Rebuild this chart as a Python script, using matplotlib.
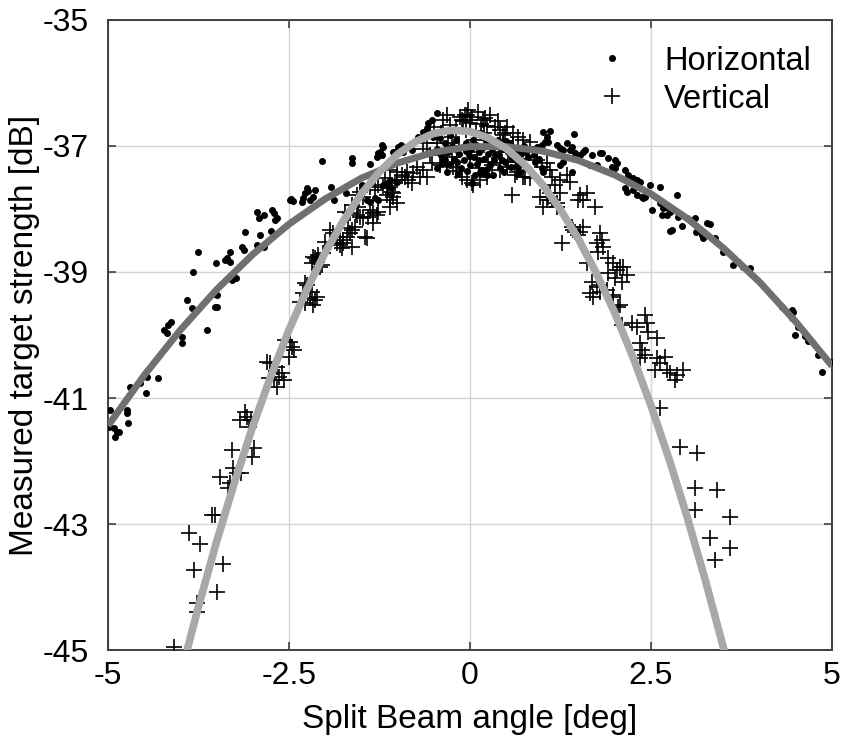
import numpy as np
import matplotlib
matplotlib.use("Agg")
import matplotlib.pyplot as plt

# ==========================================
# DATA
# ==========================================
# Horizontal split-beam angle measurements (angle [deg], TS [dB])
horiz_pts = [
    # left arm
    (-3.29, -39.13), (-3.91, -39.44), (-3.84, -39.57), (-3.50, -39.37), (-3.52, -39.56),
    (-3.49, -39.56), (-3.63, -39.92), (-4.13, -39.79), (-4.17, -39.84), (-4.23, -39.92),
    (-4.19, -39.97), (-3.98, -40.03), (-3.98, -40.13), (-4.46, -40.67), (-4.31, -40.68),
    (-4.56, -40.76), (-4.48, -40.92), (-4.70, -40.83), (-4.97, -41.19), (-4.74, -41.19),
    (-4.74, -41.24), (-4.72, -41.40), (-4.99, -41.46), (-4.92, -41.48), (-4.88, -41.54),
    (-4.90, -41.62), (-4.85, -41.54),
    (-2.49, -37.86), (-2.94, -38.05), (-2.85, -38.10), (-2.91, -38.14), (-2.73, -38.02),
    (-2.71, -38.06), (-2.67, -38.14), (-2.69, -38.17), (-3.11, -38.37), (-2.90, -38.41),
    (-2.75, -38.35), (-2.94, -38.57), (-2.85, -38.60), (-3.15, -38.60), (-3.12, -38.65),
    (-3.31, -38.68), (-3.36, -38.78), (-3.31, -38.84), (-3.38, -38.81), (-3.75, -38.68),
    (-3.51, -38.86), (-3.83, -39.00), (-3.29, -39.10), (-3.23, -39.10), (-3.52, -39.35),
    (-2.04, -37.24), (-1.63, -37.19), (-1.63, -37.27), (-1.38, -37.29), (-1.28, -37.17),
    (-1.22, -37.14), (-1.20, -37.02), (-1.24, -37.10), (-1.04, -37.10), (-0.99, -37.02),
    (-2.25, -37.67), (-2.28, -37.75), (-2.31, -37.83), (-2.21, -37.86), (-2.24, -37.71),
    (-2.17, -37.81), (-2.14, -37.70), (-2.32, -37.89), (-2.47, -37.84), (-2.45, -37.87),
    (-1.92, -37.65), (-1.88, -37.86), (-1.71, -37.75), (-1.49, -37.62), (-1.49, -37.73),
    (-1.42, -37.86), (-1.38, -37.89), (-1.31, -37.83), (-1.27, -37.86), (-1.15, -37.59),
    (-1.10, -37.54), (-1.01, -37.57),
    (-1.22, -36.98), (-1.27, -37.11), (-1.06, -37.10), (-0.95, -36.98), (-0.86, -37.02),
    (-0.80, -37.06), (-0.72, -36.86), (-0.65, -36.78), (-0.59, -36.71), (-0.58, -36.63),
    (-0.52, -36.59), (-0.46, -36.48), (-0.55, -36.79), (-0.51, -36.86), (-0.37, -37.22),
    (-1.20, -37.62), (-1.10, -37.65), (-0.93, -37.10), (-0.46, -37.35), (-0.35, -37.22),
    (-0.18, -37.25), (0.03, -37.59), (0.14, -37.41), (0.23, -37.46), (1.01, -37.41),
    (0.99, -37.35),
    # centre cluster
    (-0.45, -37.05), (-0.40, -37.15), (-0.35, -36.95), (-0.30, -37.10), (-0.28, -37.30),
    (-0.25, -37.00), (-0.22, -37.20), (-0.20, -36.90), (-0.15, -37.12), (-0.12, -37.35),
    (-0.10, -37.02), (-0.08, -37.22), (-0.05, -36.95), (-0.02, -37.15), (0.00, -37.30),
    (0.02, -37.05), (0.05, -37.18), (0.08, -36.98), (0.10, -37.28), (0.12, -37.10),
    (0.15, -37.38), (0.18, -37.02), (0.20, -37.20), (0.22, -36.92), (0.25, -37.12),
    (0.28, -37.30), (0.30, -37.05), (0.33, -37.22), (0.36, -36.98), (0.40, -37.15),
    (0.42, -37.35), (0.45, -37.05), (0.48, -37.25), (0.52, -37.10), (0.55, -36.96),
    (0.58, -37.20), (0.62, -37.08), (0.65, -37.30), (0.70, -37.12), (0.75, -37.00),
    (0.80, -37.18), (0.85, -37.05), (0.90, -37.25),
    (-0.42, -36.88), (-0.38, -37.28), (-0.32, -37.42), (-0.27, -36.82), (-0.18, -37.06),
    (-0.16, -37.44), (-0.06, -37.08), (-0.04, -37.40), (0.04, -36.90), (0.07, -37.46),
    (0.13, -37.22), (0.17, -36.86), (0.24, -37.36), (0.27, -37.00), (0.32, -37.46),
    (0.35, -37.14), (0.38, -36.90), (0.44, -37.22), (0.47, -37.42), (0.50, -36.92),
    (0.56, -37.34), (0.60, -37.16), (0.67, -37.05), (0.68, -37.42), (0.72, -37.24),
    (0.78, -37.10), (0.82, -37.36), (0.88, -37.14), (0.93, -37.02), (0.95, -37.20),
    # right arm
    (1.01, -36.78), (1.10, -36.76), (1.06, -36.86), (1.04, -36.94), (1.08, -36.94),
    (0.99, -36.98), (1.44, -36.81), (1.20, -36.98), (1.24, -37.03), (1.34, -36.95),
    (1.41, -37.02), (1.28, -37.06), (1.38, -37.06), (1.45, -37.11), (1.56, -37.10),
    (1.59, -37.06), (1.69, -37.14), (1.80, -37.11), (1.82, -37.11), (1.52, -37.14),
    (1.91, -37.19), (2.00, -37.22), (2.03, -37.27), (1.66, -37.30), (1.75, -37.30),
    (1.96, -37.33), (2.14, -37.38), (2.00, -37.35), (2.18, -37.46), (2.25, -37.51),
    (2.31, -37.54), (2.35, -37.57), (2.14, -37.67), (2.17, -37.73), (2.25, -37.70),
    (2.31, -37.78), (2.38, -37.81), (2.39, -37.83), (2.49, -37.62), (2.51, -38.02),
    (1.41, -37.41), (1.28, -37.25), (1.24, -37.30), (0.18, -37.43), (0.66, -37.33),
    (2.42, -37.81), (2.62, -37.65), (2.62, -37.90), (2.67, -37.98), (2.73, -37.98),
    (2.76, -38.05), (2.65, -38.10), (2.72, -38.10), (2.86, -37.78), (2.87, -38.13),
    (2.93, -38.27), (2.76, -38.35), (2.79, -38.33), (3.00, -38.14), (3.04, -38.17),
    (3.11, -38.14), (3.12, -38.37), (3.20, -38.41), (3.22, -38.46), (3.27, -38.22),
    (3.31, -38.24), (3.38, -38.46), (3.49, -38.68), (3.63, -38.89), (3.70, -38.84),
    (3.77, -38.92), (3.87, -38.94), (4.31, -39.56), (4.45, -39.60), (4.46, -39.63),
    (4.45, -39.73), (4.53, -39.87), (4.49, -40.00), (4.63, -40.02), (4.67, -40.10),
    (4.81, -40.32), (4.86, -40.59), (4.99, -40.43),
]

# Vertical split-beam angle measurements
vert_pts = [
    # left arm
    (-4.09, -44.95), (-3.77, -44.25), (-3.77, -44.40), (-3.49, -44.08), (-3.81, -43.73),
    (-3.41, -43.63), (-3.73, -43.32), (-3.88, -43.14), (-3.56, -42.86), (-3.52, -42.86),
    (-3.34, -42.43), (-3.31, -42.35), (-3.45, -42.25), (-3.27, -42.11), (-3.16, -42.19),
    (-3.22, -42.19), (-3.29, -41.83), (-2.98, -41.79), (-3.01, -41.94), (-3.17, -41.35),
    (-3.08, -41.30), (-3.03, -41.35), (-3.05, -41.46), (-3.11, -41.22), (-2.80, -40.43),
    (-2.76, -40.44), (-2.67, -40.51), (-2.78, -40.68), (-2.71, -40.71), (-2.67, -40.83),
    (-2.57, -40.71), (-2.60, -40.60), (-2.64, -40.67), (-2.55, -40.08), (-2.49, -40.11),
    (-2.46, -40.19), (-2.43, -40.24), (-2.50, -40.35),
    (-2.35, -39.48), (-2.28, -39.49), (-2.21, -39.41), (-2.17, -39.52), (-2.14, -39.44),
    (-2.25, -39.21), (-2.31, -39.33), (-2.18, -38.86), (-2.14, -38.78), (-2.11, -38.84),
    (-2.07, -38.92), (-2.10, -38.73), (-2.03, -38.70), (-1.93, -38.33), (-1.89, -38.38),
    (-1.84, -38.54), (-1.80, -38.57), (-1.75, -38.49), (-1.77, -38.62), (-1.70, -38.44),
    (-1.69, -38.30), (-1.63, -38.33), (-1.59, -38.29), (-1.66, -38.38), (-1.73, -38.05),
    (-1.66, -38.06), (-1.56, -38.10), (-1.52, -38.13), (-1.48, -38.14), (-1.42, -38.46),
    (-1.55, -37.97), (-1.38, -38.02), (-1.34, -38.06), (-1.27, -38.05), (-1.56, -37.78),
    (-1.52, -37.73), (-1.48, -37.81), (-1.38, -37.65), (-1.31, -37.70), (-1.27, -37.62),
    (-1.20, -37.65), (-1.13, -37.67), (-1.08, -37.73), (-1.06, -37.81), (-1.10, -37.86),
    (-1.15, -37.78), (-1.17, -37.51), (-1.01, -37.54), (-1.63, -37.94),
    (-1.01, -37.90), (-1.10, -37.97), (-1.41, -38.13), (-1.34, -38.22), (-1.28, -38.10),
    (-1.75, -38.54), (-1.63, -38.60), (-1.45, -38.44), (-2.00, -38.52), (-1.80, -38.44),
    (-2.17, -38.76), (-2.11, -38.81), (-2.04, -38.89), (-2.28, -39.17), (-2.18, -39.32),
    (-2.11, -39.40),
    # centre
    (-0.07, -36.51), (0.00, -36.59), (-0.14, -36.54), (-0.03, -36.43), (-0.11, -37.49),
    (-0.04, -37.54), (0.03, -37.59), (-0.32, -37.27), (-0.23, -37.33), (-0.18, -37.25),
    (-0.25, -37.17), (-0.79, -37.43), (-0.69, -37.49), (-0.65, -37.38), (-0.73, -37.33),
    (-0.87, -37.41), (-0.94, -37.46), (-0.86, -37.54), (-0.80, -37.59),
    (0.03, -36.54), (0.11, -36.46), (0.28, -36.51), (0.00, -36.63), (0.18, -36.59),
    (-0.11, -36.59), (-0.37, -36.59), (-0.32, -36.51), (0.41, -36.75), (0.51, -36.70),
    (0.59, -36.79), (0.66, -36.86), (0.73, -36.90), (0.83, -36.94), (0.58, -37.78),
    (0.04, -37.62), (0.14, -37.54), (0.23, -37.49), (0.41, -37.38), (0.51, -37.33),
    (0.65, -37.41), (0.73, -37.49), (0.83, -37.51), (-1.10, -37.38), (-1.01, -37.41),
    (-0.90, -37.49), (-1.04, -37.59), (-1.06, -37.75), (-0.59, -37.49), (-0.52, -37.27),
    (-0.45, -36.95), (-0.35, -37.05), (-0.25, -36.85), (-0.15, -37.00), (-0.05, -36.75),
    (0.05, -36.90), (0.10, -37.10), (0.20, -36.80), (0.30, -37.00), (0.35, -36.70),
    (0.45, -36.95), (0.55, -37.10), (0.60, -37.00), (-0.55, -37.15), (-0.60, -36.95),
    (0.00, -37.20), (0.25, -37.25), (-0.20, -37.40), (0.15, -36.65), (-0.10, -36.60),
    (-0.50, -36.70), (-0.40, -36.80), (-0.28, -36.66), (-0.20, -36.72), (0.08, -36.76),
    (0.24, -36.68), (0.38, -36.60), (0.45, -36.82), (0.30, -37.30), (0.40, -37.10),
    (-0.42, -37.30), (-0.30, -36.95), (0.12, -37.35), (-0.65, -37.05), (0.70, -37.20),
    # right arm
    (0.97, -37.81), (1.06, -37.86), (1.10, -37.75), (1.20, -37.90), (1.01, -37.97),
    (0.21, -36.56), (-0.04, -36.51), (0.48, -36.79), (0.41, -37.27), (0.52, -37.25),
    (0.62, -37.46), (0.76, -37.49), (0.93, -37.22), (0.99, -37.33), (1.06, -37.27),
    (1.10, -37.38), (1.08, -37.81), (1.13, -37.49), (1.24, -37.54), (1.17, -37.62),
    (1.24, -37.75), (1.34, -37.46), (1.38, -37.57), (1.13, -37.86), (1.20, -37.97),
    (1.52, -37.78), (1.56, -37.86), (1.49, -37.86), (1.73, -37.97), (1.56, -38.29),
    (1.52, -38.37), (1.27, -38.54), (1.45, -38.37), (1.41, -38.29), (1.80, -38.38),
    (1.82, -38.49), (1.84, -38.60), (1.75, -38.54), (1.77, -38.68), (1.91, -38.78),
    (1.98, -38.86), (2.03, -38.97), (2.07, -38.92), (1.91, -39.02), (2.00, -39.10),
    (2.11, -38.92), (2.17, -39.05), (1.62, -38.86), (1.66, -39.33), (1.75, -39.24),
    (1.89, -39.29), (1.69, -39.16), (1.62, -37.75), (1.42, -38.33), (1.49, -38.41),
    (1.70, -39.40), (1.80, -39.32), (1.98, -39.40), (2.07, -39.52),
    (1.80, -39.21), (1.98, -39.37), (2.04, -39.56), (2.10, -39.16), (2.10, -39.84),
    (2.24, -39.81), (2.31, -39.87), (2.42, -39.68), (2.44, -39.81), (2.46, -39.95),
    (2.58, -40.05), (2.35, -40.13), (2.38, -40.24), (2.42, -40.32), (2.35, -40.37),
    (2.58, -40.37), (2.69, -40.35), (2.62, -40.44), (2.56, -40.56), (2.72, -40.56),
    (2.76, -40.60), (2.86, -40.63), (2.94, -40.56), (2.83, -40.71), (2.62, -41.16),
    (2.90, -41.78), (3.13, -41.87), (3.11, -42.43), (3.41, -42.46), (3.11, -42.78),
    (3.59, -42.89), (3.31, -43.22), (3.59, -43.38), (3.38, -43.57),
]

# Fitted beam-pattern curves, read at fixed angles
fit_h_x = [-5.0, -4.5, -4.0, -3.5, -3.0, -2.5, -2.0, -1.5, -1.0, -0.5, 0.0,
           0.5, 1.0, 1.5, 2.0, 2.5, 3.0, 3.5, 4.0, 4.5, 5.0]
fit_h_y = [-41.44, -40.64, -39.92, -39.28, -38.72, -38.24, -37.84, -37.51, -37.27, -37.10, -37.01,
           -37.01, -37.08, -37.23, -37.46, -37.76, -38.15, -38.62, -39.16, -39.79, -40.49]

fit_v_x = [-3.95, -3.75, -3.5, -3.25, -3.0, -2.75, -2.5, -2.25, -2.0, -1.75, -1.5, -1.25,
           -1.0, -0.75, -0.5, -0.25, 0.0, 0.25, 0.5, 0.75, 1.0, 1.25, 1.5, 1.75,
           2.0, 2.25, 2.5, 2.75, 3.0, 3.25, 3.5, 3.55]
fit_v_y = [-45.19, -44.31, -43.28, -42.33, -41.45, -40.65, -39.92, -39.27, -38.69, -38.19, -37.76, -37.41,
           -37.13, -36.93, -36.80, -36.75, -36.77, -36.87, -37.04, -37.29, -37.61, -38.01, -38.48, -39.03,
           -39.65, -40.35, -41.12, -41.97, -42.89, -43.89, -44.96, -45.19]

x_ticks = [-5, -2.5, 0, 2.5, 5]
x_tick_labels = ['-5', '-2.5', '0', '2.5', '5']
y_ticks = [-45, -43, -41, -39, -37, -35]

h_x, h_y = zip(*horiz_pts)
v_x, v_y = zip(*vert_pts)

# ==========================================
# PLOT
# ==========================================
plt.rcParams['font.family'] = ['Liberation Sans', 'DejaVu Sans']
plt.rcParams['axes.unicode_minus'] = False

fig = plt.figure(figsize=(8.45, 7.4), dpi=100)
ax = fig.add_axes([0.1278, 0.1216, 0.8568, 0.8514])

ax.plot(h_x, h_y, linestyle='none', marker='o', ms=4.0, color='black',
        label='Horizontal', zorder=3)
ax.plot(v_x, v_y, linestyle='none', marker='+', ms=12, mew=1.2, color='black',
        label='Vertical', zorder=3)

ax.plot(fit_h_x, fit_h_y, color='#707070', lw=5, solid_capstyle='butt', zorder=4)
ax.plot(fit_v_x, fit_v_y, color='#a8a8a8', lw=5.5, solid_capstyle='butt', zorder=5)

ax.set_xlim(-5, 5)
ax.set_ylim(-45, -35)
ax.set_xticks(x_ticks)
ax.set_xticklabels(x_tick_labels)
ax.set_yticks(y_ticks)

ax.grid(True, color='#d4d4d4', lw=1.0)
ax.set_axisbelow(True)
ax.tick_params(direction='in', length=6, width=1.2, color='#404040',
               labelsize=23, top=True, right=True)
ax.tick_params(axis='x', pad=8)
ax.tick_params(axis='y', pad=14)
for spine in ax.spines.values():
    spine.set_color('#404040')
    spine.set_linewidth(1.4)

ax.set_xlabel('Split Beam angle [deg]', fontsize=24, labelpad=9)
ax.set_ylabel('Measured target strength [dB]', fontsize=24, labelpad=2)

ax.legend(loc='upper right', bbox_to_anchor=(1.0, 0.993), frameon=False,
          fontsize=23.5, handlelength=1.2, handletextpad=1.0,
          labelspacing=0.22, borderaxespad=0.25)

fig.savefig('out.png', dpi=100)
